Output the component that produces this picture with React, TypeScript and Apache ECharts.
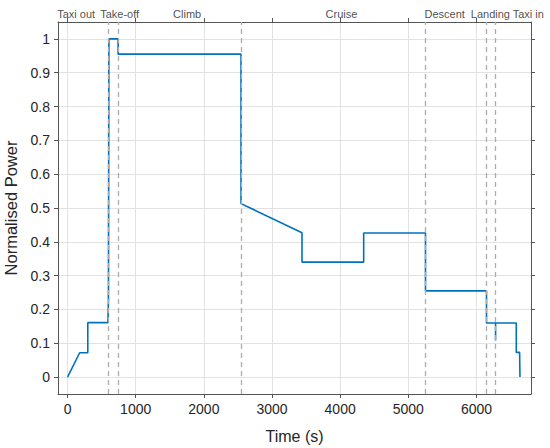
import React, { useEffect, useRef } from "react";
import * as echarts from "echarts";

const timeS = [0, 178, 297, 297, 592, 600, 607, 742, 742, 2545, 2545, 3440, 3440, 4345, 4345, 5252, 5252, 6147, 6147, 6280, 6280, 6280, 6584, 6584, 6633, 6638];
const power = [0, 0.072, 0.072, 0.161, 0.161, 0.225, 1.0, 1.0, 0.955, 0.955, 0.513, 0.427, 0.34, 0.34, 0.426, 0.426, 0.255, 0.255, 0.16, 0.16, 0.108, 0.16, 0.16, 0.073, 0.073, 0];

const phaseBounds = [590, 742, 2545, 5252, 6147, 6280];
const phaseNames = ["Taxi out", "Take-off", "Climb", "Cruise", "Descent", "Landing", "Taxi in"];
const phaseLabelX = [127, 764, 1755, 4019, 5533, 6204, 6760];

const xTicks = [0, 1000, 2000, 3000, 4000, 5000, 6000];
const yTicks = [0, 0.1, 0.2, 0.3, 0.4, 0.5, 0.6, 0.7, 0.8, 0.9, 1];

const X_MIN = -140;
const X_MAX = 6800;
const Y_MIN = -0.05;
const Y_MAX = 1.05;

const FONT = "Liberation Sans, Arial, sans-serif";
const AXIS_COLOR = "#555555";
const TEXT_COLOR = "#262626";

export default function App() {
  const ref = useRef<HTMLDivElement>(null);

  useEffect(() => {
    document.body.style.margin = "0";
    if (!ref.current) return;
    const chart = echarts.init(ref.current, undefined, { renderer: "svg" });

    const lineData = timeS.map((t, i) => [t, power[i]]);

    const baseX = {
      type: "value" as const,
      min: X_MIN,
      max: X_MAX,
      splitNumber: 6,
      axisLine: { show: true, onZero: false, lineStyle: { color: AXIS_COLOR, width: 1 } },
      axisTick: { show: true, inside: false, length: 4, customValues: xTicks, lineStyle: { color: AXIS_COLOR } },
    };
    const baseY = {
      type: "value" as const,
      min: Y_MIN,
      max: Y_MAX,
      splitNumber: 10,
      axisLine: { show: true, onZero: false, lineStyle: { color: AXIS_COLOR, width: 1 } },
      axisTick: { show: true, inside: false, length: 4, customValues: yTicks, lineStyle: { color: AXIS_COLOR } },
    };

    chart.setOption({
      animation: false,
      grid: { left: 58, right: 19, top: 22, bottom: 54, containLabel: false, outerBoundsMode: "none" },
      xAxis: [
        {
          ...baseX,
          position: "bottom",
          name: "Time (s)",
          nameLocation: "middle",
          nameGap: 34,
          nameTextStyle: { fontFamily: FONT, fontSize: 16, color: TEXT_COLOR },
          axisLabel: {
            show: true,
            customValues: xTicks,
            formatter: (v: number) => String(v),
            fontFamily: FONT,
            fontSize: 14,
            color: TEXT_COLOR,
            margin: 8,
          },
          splitLine: { show: true, lineStyle: { color: "#e2e2e2", width: 1 } },
        },
        {
          ...baseX,
          position: "top",
          axisLabel: { show: false },
          splitLine: { show: false },
        },
      ],
      yAxis: [
        {
          ...baseY,
          position: "left",
          name: "Normalised Power",
          nameLocation: "middle",
          nameGap: 31,
          nameRotate: 90,
          nameTextStyle: { fontFamily: FONT, fontSize: 16.5, color: TEXT_COLOR },
          axisLabel: {
            show: true,
            customValues: yTicks,
            fontFamily: FONT,
            fontSize: 14,
            color: TEXT_COLOR,
            margin: 8,
          },
          splitLine: { show: true, lineStyle: { color: "#e2e2e2", width: 1 } },
        },
        {
          ...baseY,
          position: "right",
          axisLabel: { show: false },
          splitLine: { show: false },
        },
      ],
      series: [
        {
          type: "line",
          xAxisIndex: 0,
          yAxisIndex: 0,
          data: lineData,
          showSymbol: false,
          symbol: "none",
          lineStyle: { color: "#0072BD", width: 1.6 },
          z: 2,
          markLine: {
            silent: true,
            symbol: ["none", "none"],
            label: { show: false },
            lineStyle: { type: [5, 4], color: "#acacac", width: 1.3 },
            z: 3,
            data: phaseBounds.map((x) => ({ xAxis: x })),
          },
        },
        {
          type: "scatter",
          xAxisIndex: 0,
          yAxisIndex: 0,
          clip: false,
          symbolSize: 0,
          silent: true,
          data: phaseLabelX.map((x, i) => ({ value: [x, Y_MAX], name: phaseNames[i] })),
          label: {
            show: true,
            position: "top",
            distance: 3,
            formatter: "{b}",
            fontFamily: FONT,
            fontSize: 11,
            color: "#1a1a1a",
          },
        },
      ],
    });

    return () => {
      chart.dispose();
    };
  }, []);

  return <div ref={ref} style={{ width: 550, height: 448 }} />;
}
